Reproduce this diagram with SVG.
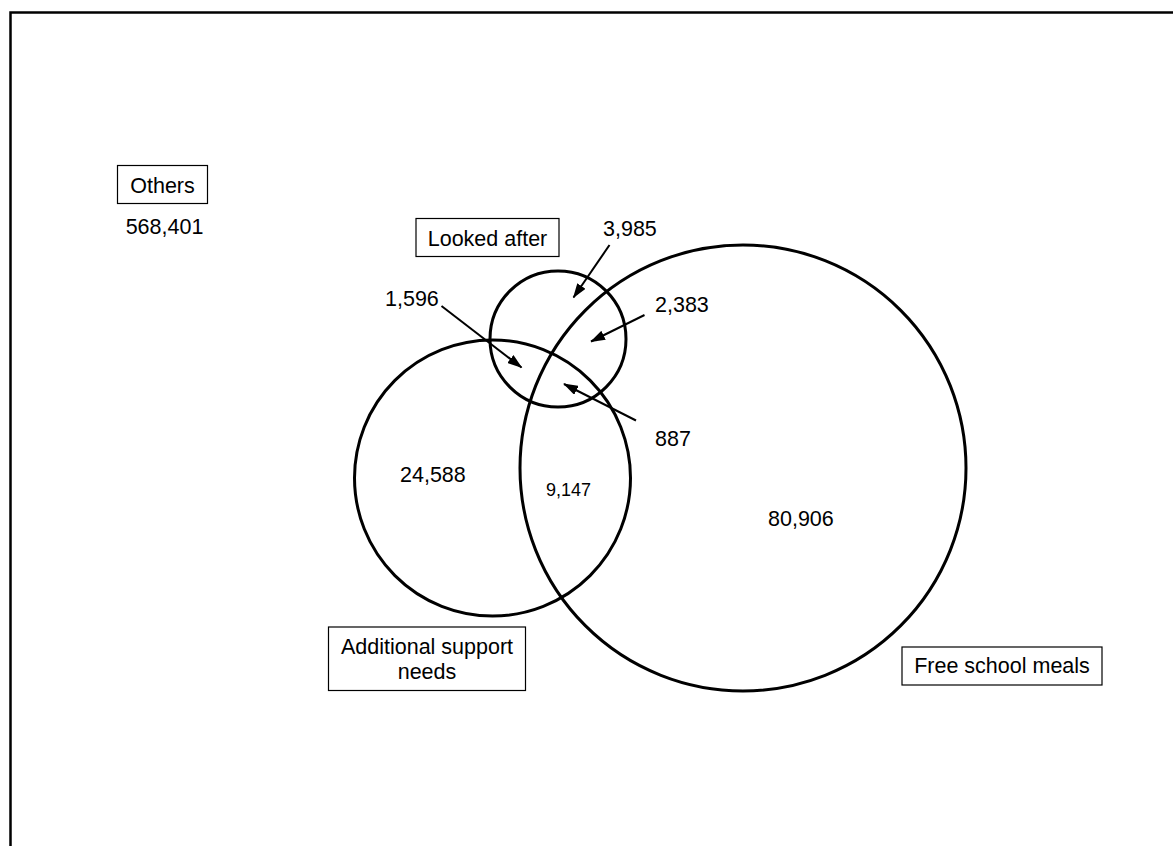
<svg xmlns="http://www.w3.org/2000/svg" width="1173" height="846" viewBox="0 0 1173 846">
<style>
text{font-family:"Liberation Sans",Arial,sans-serif;font-size:21.5px;fill:#000}
.c{text-anchor:middle}
.circ{fill:none;stroke:#000;stroke-width:3}
.box{fill:#fff;stroke:#000;stroke-width:1.2}
.arr{stroke:#000;stroke-width:2;fill:none;marker-end:url(#ah)}
</style>
<defs>
<marker id="ah" viewBox="0 0 15 10" refX="14" refY="5" markerWidth="15" markerHeight="10" markerUnits="userSpaceOnUse" orient="auto">
<path d="M0,0 L15,5 L0,10 z" fill="#000"/>
</marker>
</defs>
<rect width="1173" height="846" fill="#fff"/>
<path d="M10.5,846 V12.5 H1173" fill="none" stroke="#000" stroke-width="2.5"/>
<g id="others">
<rect class="box" x="117.5" y="165.5" width="90" height="38"/>
<text class="c" x="162.5" y="193">Others</text>
<text class="c" x="164.5" y="234">568,401</text>
</g>
<g id="fsm">
<circle class="circ" cx="743" cy="468" r="223"/>
<rect class="box" x="902" y="647" width="200" height="38"/>
<text class="c" x="1002" y="673">Free school meals</text>
</g>
<g id="asn">
<circle class="circ" cx="492.5" cy="478" r="138"/>
<rect class="box" x="328.5" y="627" width="197" height="63.5"/>
<text class="c" x="427" y="654">Additional support</text>
<text class="c" x="427" y="679">needs</text>
</g>
<g id="la">
<circle class="circ" cx="558" cy="339" r="68"/>
<rect class="box" x="416" y="218.5" width="143" height="38"/>
<text class="c" x="487.5" y="246">Looked after</text>
</g>
<g id="values">
<text x="400" y="481.5">24,588</text>
<text x="546" y="496" style="font-size:18px">9,147</text>
<text x="768" y="526">80,906</text>
<text x="603" y="236">3,985</text>
<text x="385" y="306">1,596</text>
<text x="655" y="312">2,383</text>
<text x="655" y="446">887</text>
</g>
<g id="connectors">
<line class="arr" x1="609.5" y1="245" x2="573.5" y2="297.5"/>
<line class="arr" x1="441.5" y1="306" x2="521.5" y2="367.5"/>
<line class="arr" x1="644.5" y1="315" x2="591" y2="341.5"/>
<line class="arr" x1="636" y1="420.5" x2="564" y2="384"/>
</g>
</svg>
